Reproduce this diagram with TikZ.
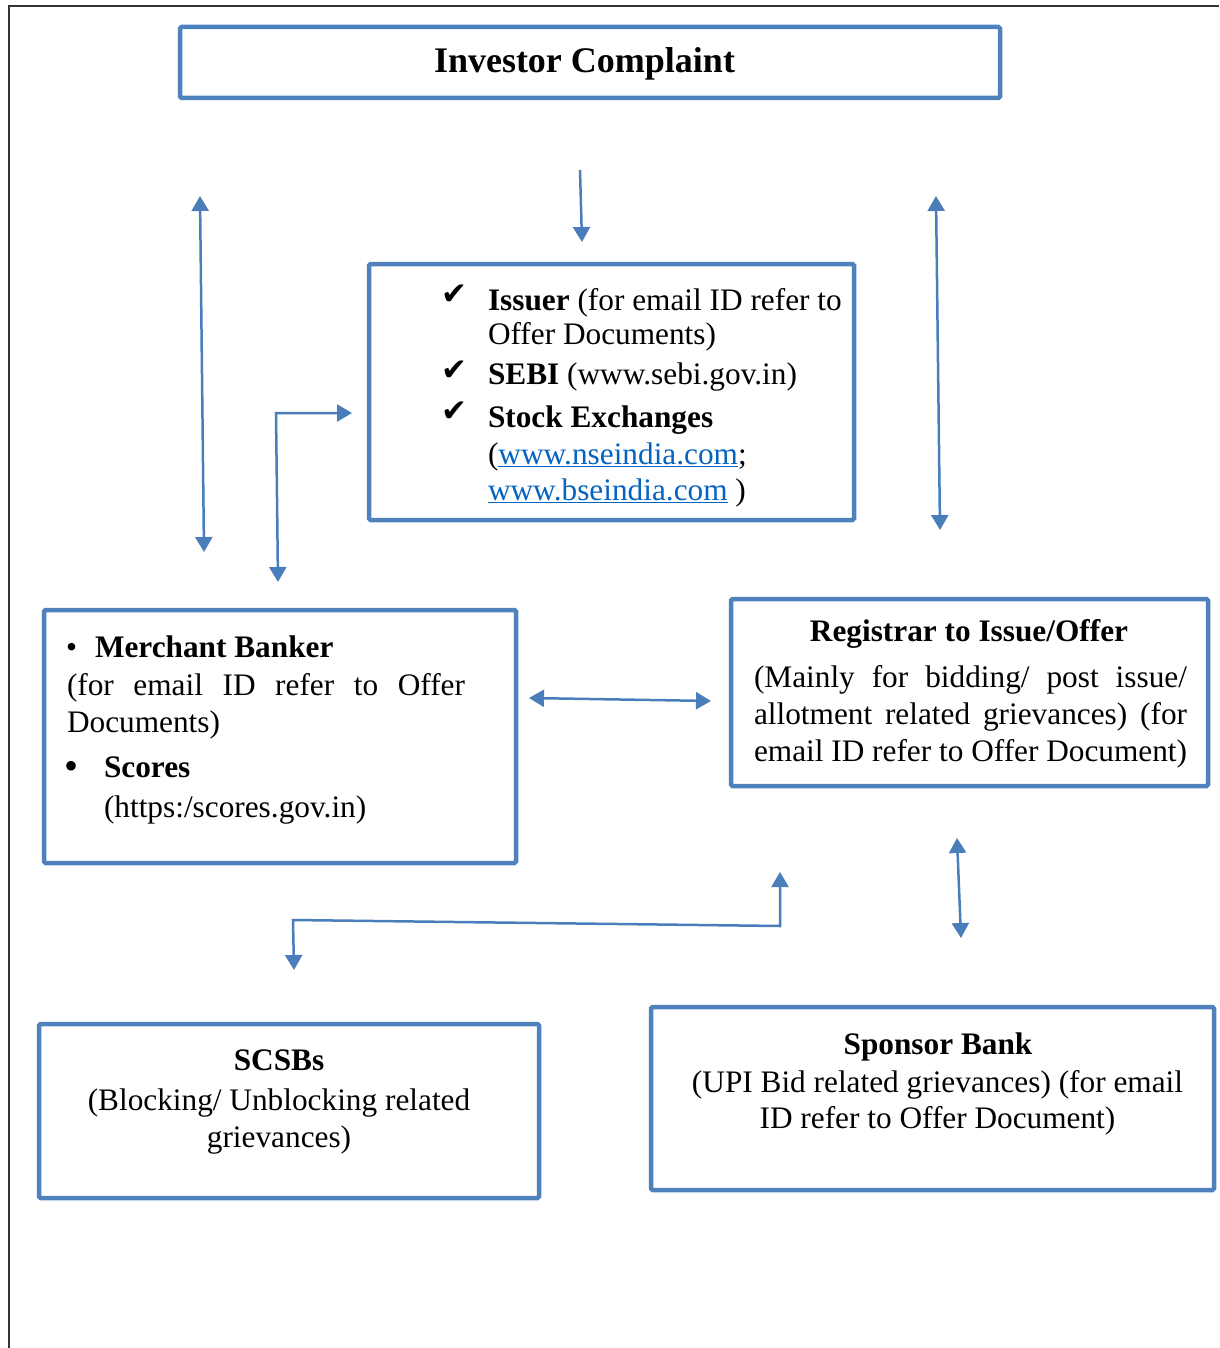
\documentclass[tikz,border=0pt]{standalone}
\usepackage{fontspec}
\setmainfont{Liberation Serif}
\newfontfamily\symf{DejaVu Sans}
\usetikzlibrary{arrows.meta}
\definecolor{boxblue}{HTML}{4F81BD}
\definecolor{arrowblue}{HTML}{4A7EBB}
\definecolor{linkblue}{HTML}{0563C1}
\definecolor{framegray}{HTML}{333333}
\newcommand{\chk}{{\symf\fontsize{31}{31}\selectfont ✔}}
\newcommand{\lnk}[1]{\textcolor{linkblue}{\underline{#1}}}
\begin{document}
\begin{tikzpicture}[x=1pt,y=-1pt,
  >={Triangle[width=17pt,length=15pt]},
  box/.style={draw=boxblue, line width=4.5pt, rounded corners=1.5pt, inner sep=0pt, outer sep=0pt},
  txt/.style={inner sep=0pt, outer sep=0pt, font=\fontsize{31.3}{37}\selectfont},
  ttl/.style={inner sep=0pt, outer sep=0pt, font=\fontsize{36}{40}\selectfont\bfseries},
  conn/.style={draw=arrowblue, line width=2.5pt},
  framestyle/.style={draw=framegray, line width=2pt}]
\useasboundingbox (0,0) rectangle (1219,1348);
\draw[framestyle] (9,1348) -- (9,6) -- (1219,6);

% boxes
\node[box, minimum width=820pt, minimum height=71pt] (title) at (590,62.5) {};
\node[box, minimum width=485pt, minimum height=256pt] (issuer) at (611.5,392) {};
\node[box, minimum width=472pt, minimum height=253pt] (merchant) at (280,736.5) {};
\node[box, minimum width=477pt, minimum height=187pt] (registrar) at (969.5,692.5) {};
\node[box, minimum width=500pt, minimum height=174pt] (scsb) at (289,1111) {};
\node[box, minimum width=563pt, minimum height=183pt] (sponsor) at (932.5,1098.5) {};

% title text
\node[ttl, anchor=base] (titletext) at (584.5,73) {Investor Complaint};

% issuer text
\node[txt, anchor=base west] (ck1) at (441,304) {\chk};
\node[txt, anchor=base west] (is1) at (488,310) {\textbf{Issuer} (for email ID refer to};
\node[txt, anchor=base west] (is2) at (488,344) {Offer Documents)};
\node[txt, anchor=base west] (ck2) at (441,380) {\chk};
\node[txt, anchor=base west] (is3) at (488,384) {\textbf{SEBI} (www.sebi.gov.in)};
\node[txt, anchor=base west] (ck3) at (441,421) {\chk};
\node[txt, anchor=base west] (is4) at (488,427) {\textbf{Stock Exchanges}};
\node[txt, anchor=base west] (is5) at (488,464) {(\lnk{www.nseindia.com};};
\node[txt, anchor=base west] (is6) at (488,500) {\lnk{www.bseindia.com} )};

% merchant text
\node[txt, anchor=base west] (mb0) at (66,657) {•};
\node[txt, anchor=base west] (mb1) at (95,657) {\textbf{Merchant Banker}};
\node[txt, anchor=base west] (mb2) at (67,695) {\makebox[398pt][s]{(for email ID refer to Offer}};
\node[txt, anchor=base west] (mb3) at (67,732) {Documents)};
\node[txt, anchor=base west] (mb4) at (64,779) {\fontsize{40}{40}\selectfont •};
\node[txt, anchor=base west] (mb5) at (104,777) {\textbf{Scores}};
\node[txt, anchor=base west] (mb6) at (104,817) {(https:/scores.gov.in)};

% registrar text
\node[txt, anchor=base] (rg1) at (969,641) {\textbf{Registrar to Issue/Offer}};
\node[txt, anchor=base west] (rg2) at (754,687) {\makebox[433pt][s]{(Mainly for bidding/ post issue/}};
\node[txt, anchor=base west] (rg3) at (754,724) {\makebox[433pt][s]{allotment related grievances) (for}};
\node[txt, anchor=base west] (rg4) at (754,761) {email ID refer to Offer Document)};

% scsb text
\node[txt, anchor=base] (sc1) at (279,1070) {\textbf{SCSBs}};
\node[txt, anchor=base] (sc2) at (279,1110) {(Blocking/ Unblocking related};
\node[txt, anchor=base] (sc3) at (279,1147) {grievances)};

% sponsor text
\node[txt, anchor=base] (sp1) at (938,1054) {\textbf{Sponsor Bank}};
\node[txt, anchor=base] (sp2) at (937.5,1092) {(UPI Bid related grievances) (for email};
\node[txt, anchor=base] (sp3) at (937.5,1128) {ID refer to Offer Document)};

% connector end points
\coordinate (a1s) at (200,196);
\coordinate (a1e) at (204,552);
\coordinate (a2s) at (352,413);
\coordinate (a2m) at (276,413);
\coordinate (a2e) at (278,582);
\coordinate (a3s) at (580,170);
\coordinate (a3e) at (582,242);
\coordinate (a4s) at (936,196);
\coordinate (a4e) at (940,530);
\coordinate (a5s) at (529,698);
\coordinate (a5e) at (711,701);
\coordinate (a6s) at (294,970);
\coordinate (a6m1) at (293,920);
\coordinate (a6m2) at (780,926);
\coordinate (a6e) at (780,872);
\coordinate (a7s) at (957,838);
\coordinate (a7e) at (961,938);

\draw[conn, <->] (a1s) -- (a1e);
\draw[conn, <->] (a2s) -- (a2m) -- (a2e);
\draw[conn, ->] (a3s) -- (a3e);
\draw[conn, <->] (a4s) -- (a4e);
\draw[conn, <->] (a5s) -- (a5e);
\draw[conn, <->] (a6s) -- (a6m1) -- (a6m2) -- (a6e);
\draw[conn, <->] (a7s) -- (a7e);
\end{tikzpicture}
\end{document}
